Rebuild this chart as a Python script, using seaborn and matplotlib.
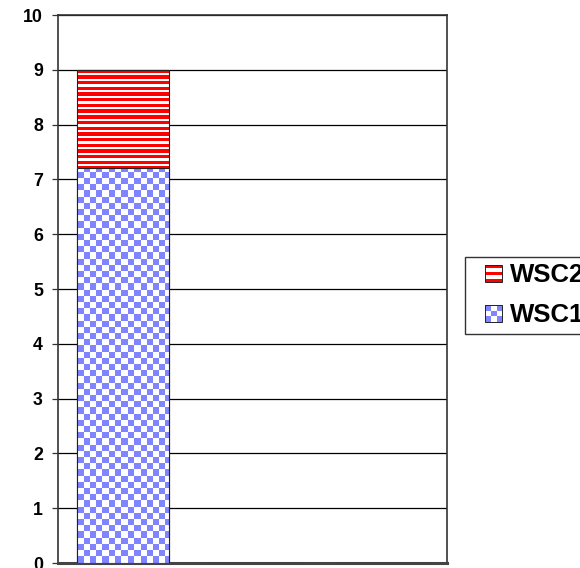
import numpy as np
import pandas as pd
import seaborn as sns
from matplotlib import pyplot as plt
from matplotlib.patches import Patch, Rectangle
from matplotlib.legend_handler import HandlerBase

sns.set_style('white')
plt.rcParams['font.family'] = ['Liberation Sans', 'DejaVu Sans']
plt.rcParams['text.color'] = 'black'
plt.rcParams['ytick.labelcolor'] = 'black'

categories = ['1', '2', '3']
wsc1 = [7.2, 0, 0]
wsc2 = [1.8, 0, 0]
yticks = [0, 1, 2, 3, 4, 5, 6, 7, 8, 9, 10]

RED = (1.0, 0.0, 0.0)
BLUE = (0.50, 0.52, 1.0)

df = pd.DataFrame({'cat': categories, 'WSC1': wsc1, 'WSC2': wsc2})
df['total'] = df['WSC1'] + df['WSC2']

fig = plt.figure(figsize=(5.8, 5.68), dpi=100)
ax = fig.add_axes([58 / 580, 1 - 563 / 568, (447 - 58) / 580, (563 - 15) / 568])

# stacked: total first, then the bottom segment over it
sns.barplot(data=df, x='cat', y='total', color='white', width=0.71, ax=ax,
            edgecolor='#222222', linewidth=0.8, zorder=2)
n_top = len(ax.patches)
sns.barplot(data=df, x='cat', y='WSC1', color='white', width=0.71, ax=ax,
            edgecolor='#222222', linewidth=0.8, zorder=3)

ax.set_ylim(0, 10)
ax.set_xlim(-0.5, 2.5)
ax.set_yticks(yticks)
ax.set_yticklabels(yticks, fontsize=12.8, fontweight='bold', color='black')
ax.set_xticks([])
ax.set_xlabel('')
ax.set_ylabel('')
ax.yaxis.grid(True, color='black', linewidth=0.9, zorder=0)
ax.set_axisbelow(True)
ax.tick_params(axis='y', left=True, length=4.3, width=0.9, pad=6.5, color='#333333')
for s in ['left', 'right', 'top']:
    ax.spines[s].set_visible(True)
    ax.spines[s].set_color('#333333')
    ax.spines[s].set_linewidth(1.2)
ax.spines['bottom'].set_color('#444444')
ax.spines['bottom'].set_linewidth(2.2)

fig.canvas.draw()
px_y = ax.transData.transform((0, 1))[1] - ax.transData.transform((0, 0))[1]
px_x = ax.transData.transform((1, 0))[0] - ax.transData.transform((0, 0))[0]


def fill_pattern(patch, kind):
    x0, y0 = patch.get_x(), patch.get_y()
    w, h = patch.get_width(), patch.get_height()
    if h <= 0:
        return
    nr, nc = int(round(h * px_y)), int(round(w * px_x))
    img = np.ones((nr, nc, 3))
    rows = np.arange(nr)
    cols = np.arange(nc)
    if kind == 'checker':
        cell = 6.2
        rr = ((nr - 1 - rows) // cell).astype(int)  # count from bottom
        cc = (cols // cell).astype(int)
        mask = (rr[:, None] + cc[None, :]) % 2 == 0
        img[mask] = BLUE
    else:
        period, red_w = 5.7, 3.4
        mask = (rows % period) < red_w  # count from top
        img[mask, :] = RED
    im = ax.imshow(img, extent=(x0, x0 + w, y0, y0 + h), origin='upper',
                   interpolation='nearest', aspect='auto', zorder=patch.get_zorder() - 0.05)
    im.set_clip_path(patch)
    patch.set_facecolor('none')


for p in ax.patches[:n_top]:
    fill_pattern(p, 'stripes')
for p in ax.patches[n_top:]:
    fill_pattern(p, 'checker')
ax.set_xlim(-0.5, 2.5)
ax.set_ylim(0, 10)


class KeyHandler(HandlerBase):
    def __init__(self, kind):
        super().__init__()
        self.kind = kind

    def create_artists(self, legend, orig_handle, xdescent, ydescent, width, height, fontsize, trans):
        size = 12.2
        x0 = -xdescent + 10
        y0 = -ydescent + (height - size) / 2
        arts = [Rectangle((x0, y0), size, size, facecolor='white', edgecolor='none')]
        if self.kind == 'stripes':
            band = size / 5
            for i in range(0, 5, 2):
                arts.append(Rectangle((x0, y0 + i * band), size, band, facecolor=RED, edgecolor='none'))
        else:
            cell = size / 3
            for r in range(3):
                for c in range(3):
                    if (r + c) % 2 == 0:
                        arts.append(Rectangle((x0 + c * cell, y0 + r * cell), cell, cell,
                                              facecolor=BLUE, edgecolor='none'))
        arts.append(Rectangle((x0, y0), size, size, facecolor='none', edgecolor='#222222', linewidth=0.7))
        for a in arts:
            a.set_transform(trans)
        return arts


h2 = Patch(label='WSC2')
h1 = Patch(label='WSC1')
leg = fig.legend(handles=[h2, h1], loc='upper left', bbox_to_anchor=(465 / 580, 1 - 257 / 568),
                 frameon=True, fancybox=False, edgecolor='#333333', framealpha=1,
                 prop={'size': 18.5, 'weight': 'bold'}, handlelength=1.2, handleheight=0.7,
                 handletextpad=0.31, borderpad=0.25, labelspacing=0.62, borderaxespad=0,
                 handler_map={h2: KeyHandler('stripes'), h1: KeyHandler('checker')})
leg.get_frame().set_linewidth(1.0)
for t in leg.get_texts():
    t.set_color('black')

fig.savefig('out.png', dpi=100)
